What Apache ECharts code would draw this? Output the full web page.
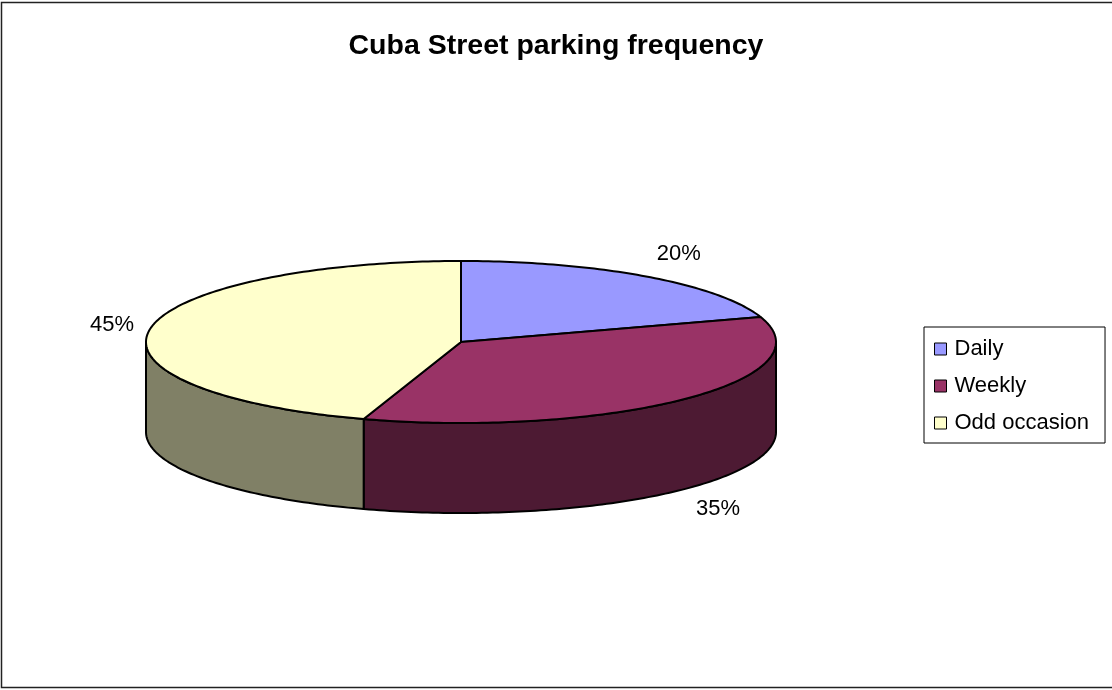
<!DOCTYPE html>
<html>
<head>
<meta charset="utf-8">
<script src="https://cdn.jsdelivr.net/npm/echarts@6/dist/echarts.min.js"></script>
<style>
  html, body { margin: 0; padding: 0; background: #fff; }
  #chart { width: 1112px; height: 690px; }
</style>
</head>
<body>
<div id="chart"></div>
<script>
// Parking frequency shares
const categories = ['Daily', 'Weekly', 'Odd occasion'];
const shares = [20, 35, 45];
const percentLabels = ['20%', '35%', '45%'];

// Slice colours: top face and darker side wall
const topColors = ['#9999FF', '#993366', '#FFFFCC'];
const sideColors = ['#4D4D80', '#4D1A33', '#808066'];

// Projected ellipse geometry for the tilted pie
const PIE = { cx: 461, cy: 342, rx: 315, ry: 81, depth: 90 };

const chart = echarts.init(document.getElementById('chart'), null, { renderer: 'canvas' });

const total = shares.reduce((s, v) => s + v, 0);

// theta: angle measured clockwise from 12 o'clock
function pt(theta, dy) {
  return [PIE.cx + PIE.rx * Math.sin(theta), PIE.cy - PIE.ry * Math.cos(theta) + dy];
}

function arcPoints(a, b, dy) {
  const steps = Math.max(8, Math.ceil((b - a) / (Math.PI / 180)));
  const pts = [];
  for (let i = 0; i <= steps; i++) pts.push(pt(a + (b - a) * i / steps, dy));
  return pts;
}

function renderSlice(params, api) {
  const idx = params.seriesIndex;
  const value = api.value(0);
  let before = 0;
  for (let i = 0; i < idx; i++) before += shares[i];
  const a = before / total * 2 * Math.PI;
  const b = (before + value) / total * 2 * Math.PI;
  const children = [];

  // Side wall: only the front half (from 3 o'clock round to 9 o'clock) is visible
  const lo = Math.max(a, Math.PI / 2);
  const hi = Math.min(b, 3 * Math.PI / 2);
  if (hi > lo) {
    const wall = arcPoints(lo, hi, 0).concat(arcPoints(lo, hi, PIE.depth).reverse());
    children.push({
      type: 'polygon',
      z2: 1,
      shape: { points: wall },
      style: { fill: sideColors[idx], stroke: '#000', lineWidth: 2, lineJoin: 'round' }
    });
  }

  // Top face
  const face = [[PIE.cx, PIE.cy]].concat(arcPoints(a, b, 0));
  children.push({
    type: 'polygon',
    z2: 2,
    shape: { points: face },
    style: { fill: topColors[idx], stroke: '#000', lineWidth: 2, lineJoin: 'round' }
  });

  // Percentage label just outside the slice's rim
  const m = (a + b) / 2;
  const s = Math.sin(m);
  const front = Math.cos(m) < 0;
  const lx = PIE.cx + s * (PIE.rx + 13) + Math.sign(s) * 25;
  const ly = PIE.cy - Math.cos(m) * (PIE.ry + 28) + (front ? PIE.depth : 0);
  children.push({
    type: 'text',
    z2: 3,
    x: lx,
    y: ly,
    style: {
      text: percentLabels[idx],
      fill: '#000',
      font: '22px "Liberation Sans", Arial, sans-serif',
      align: 'center',
      verticalAlign: 'middle'
    }
  });

  return { type: 'group', children };
}

const series = categories.map((name, i) => ({
  type: 'custom',
  name,
  coordinateSystem: 'none',
  data: [[shares[i]]],
  itemStyle: { color: topColors[i], borderColor: '#000', borderWidth: 1 },
  renderItem: renderSlice,
  silent: true
}));

chart.setOption({
  animation: false,
  backgroundColor: '#fff',
  title: {
    text: 'Cuba Street parking frequency',
    left: 'center',
    top: 27,
    textStyle: {
      fontFamily: '"Liberation Sans", Arial, sans-serif',
      fontWeight: 'bold',
      fontSize: 28.5,
      color: '#000'
    }
  },
  legend: {
    orient: 'vertical',
    left: 924,
    top: 327,
    padding: [11, 16, 9, 10],
    itemGap: 15,
    itemWidth: 12,
    itemHeight: 12,
    icon: 'rect',
    borderColor: '#000',
    borderWidth: 1,
    selectedMode: false,
    itemStyle: { borderColor: '#000', borderWidth: 1 },
    textStyle: {
      fontFamily: '"Liberation Sans", Arial, sans-serif',
      fontSize: 22,
      color: '#000',
      padding: [0, 0, 0, 3]
    },
    data: categories
  },
  graphic: [{
    type: 'rect',
    silent: true,
    z: -1,
    shape: { x: 1.5, y: 2.5, width: 1130, height: 685 },
    style: { fill: null, stroke: '#222', lineWidth: 1.5 }
  }],
  series
});
</script>
</body>
</html>
